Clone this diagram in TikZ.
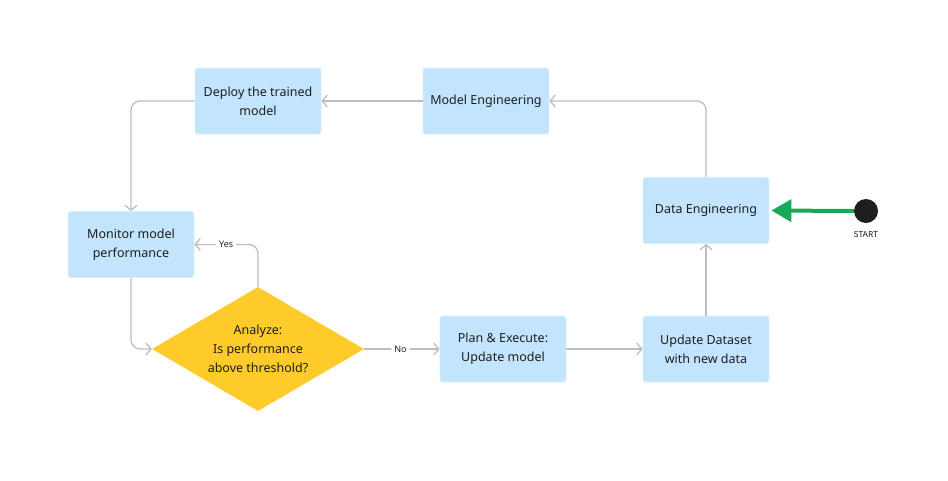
\documentclass[tikz,border=0pt]{standalone}
\usepackage{fontspec}
\setmainfont{Noto Sans}
\usetikzlibrary{arrows.meta,shapes.geometric}
\definecolor{boxblue}{HTML}{C2E4FD}
\definecolor{boxedge}{HTML}{D6EDFE}
\definecolor{dia}{HTML}{FFCB2B}
\definecolor{conn}{HTML}{BDBDBD}
\definecolor{startgreen}{HTML}{17A957}
\definecolor{txt}{HTML}{1E1E1E}
\tikzset{
  stepbox/.style={draw=boxedge, line width=0.8pt, fill=boxblue, rounded corners=3pt,
    minimum width=126pt, minimum height=66pt, align=center, text=txt,
    font=\fontsize{12.5pt}{19pt}\selectfont, inner sep=0pt},
  decision/.style={diamond, fill=dia, minimum width=212pt, minimum height=124pt,
    inner sep=0pt, align=center, text=txt, font=\fontsize{12.5pt}{19pt}\selectfont, aspect=1.7},
  flow/.style={draw=conn, line width=1.3pt, rounded corners=9pt,
    -{Straight Barb[length=5pt,width=12pt,line width=1.3pt]}},
  edgelabel/.style={fill=white, text=txt, font=\fontsize{9pt}{10pt}\selectfont, inner sep=3pt}
}
\begin{document}
\begin{tikzpicture}[x=1pt,y=-1pt]
\useasboundingbox (0,0) rectangle (948,480);
\node[stepbox] (deploy) at (258,101) {Deploy the trained\\model};
\node[stepbox] (modeleng) at (486,101) {Model Engineering};
\node[stepbox] (dataeng) at (706,210.5) {Data Engineering};
\node[stepbox] (monitor) at (131,244.5) {Monitor model\\performance};
\node[decision] (analyze) at (258,349) {Analyze:\\Is performance\\above threshold?};
\node[stepbox] (plan) at (503,349) {Plan \& Execute:\\Update model};
\node[stepbox] (update) at (706,349) {Update Dataset\\with new data};
\node[circle, fill=txt, minimum size=24pt, inner sep=0pt] (start) at (866,211) {};
\node[text=txt, font=\fontsize{8.5pt}{10pt}\selectfont] (startlbl) at (866,234) {START};

\draw[flow] (modeleng.west) -- (deploy.east);
\draw[flow] (dataeng.north) |- (modeleng.east);
\draw[flow] (deploy.west) -| (monitor.north);
\draw[flow] (monitor.south) |- (analyze.west);
\draw[flow] (analyze.north) |- node[edgelabel, pos=0.75] {Yes} (monitor.east);
\draw[flow] (analyze.east) -- node[edgelabel, pos=0.48] {No} (plan.west);
\draw[flow] (plan.east) -- (update.west);
\draw[flow] (update.north) -- (dataeng.south);
\draw[draw=startgreen, line width=4pt, -{Triangle[length=20pt,width=22pt]}] (start.west) -- ([xshift=2pt]dataeng.east);
\end{tikzpicture}
\end{document}
